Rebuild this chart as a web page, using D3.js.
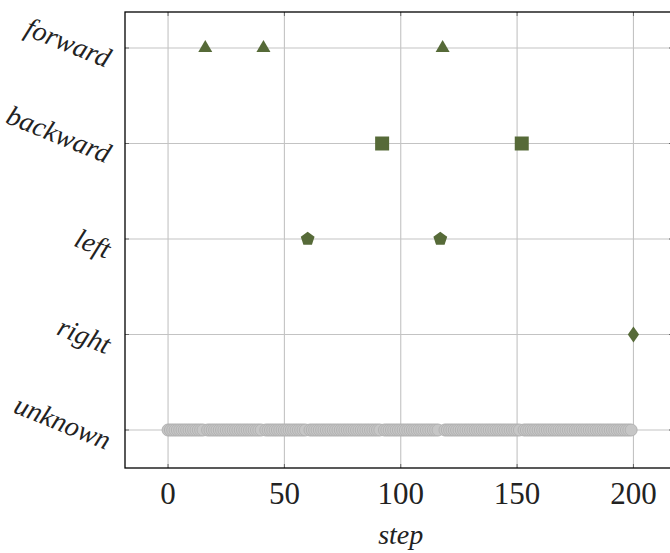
<!DOCTYPE html>
<html lang="en">
<head>
<meta charset="utf-8">
<title>Actions per step</title>
<script src="https://cdn.jsdelivr.net/npm/d3@7"></script>
<style>
  body { margin: 0; background: #fff; }
  .tick-label { font-family: "Liberation Serif", serif; font-size: 31px; fill: #222; }
  .cat-label { font-family: "Liberation Serif", serif; font-style: italic; font-size: 28px; fill: #222; }
</style>
</head>
<body>
<script>
// data
var categories = ["forward", "backward", "left", "right", "unknown"];
var forwardSteps = [16, 41, 118];
var backwardSteps = [92, 152];
var leftSteps = [60, 117];
var rightSteps = [200];
var unknownSteps = [
  0, 1, 2, 3, 4, 5, 6, 7, 8, 9, 10, 11, 12, 13, 14, 15, 17, 18, 19, 20,
  21, 22, 23, 24, 25, 26, 27, 28, 29, 30, 31, 32, 33, 34, 35, 36, 37, 38, 39, 40,
  42, 43, 44, 45, 46, 47, 48, 49, 50, 51, 52, 53, 54, 55, 56, 57, 58, 59, 61, 62,
  63, 64, 65, 66, 67, 68, 69, 70, 71, 72, 73, 74, 75, 76, 77, 78, 79, 80, 81, 82,
  83, 84, 85, 86, 87, 88, 89, 90, 91, 93, 94, 95, 96, 97, 98, 99, 100, 101, 102, 103,
  104, 105, 106, 107, 108, 109, 110, 111, 112, 113, 114, 115, 116, 119, 120, 121, 122, 123, 124, 125,
  126, 127, 128, 129, 130, 131, 132, 133, 134, 135, 136, 137, 138, 139, 140, 141, 142, 143, 144, 145,
  146, 147, 148, 149, 150, 151, 153, 154, 155, 156, 157, 158, 159, 160, 161, 162, 163, 164, 165, 166,
  167, 168, 169, 170, 171, 172, 173, 174, 175, 176, 177, 178, 179, 180, 181, 182, 183, 184, 185, 186,
  187, 188, 189, 190, 191, 192, 193, 194, 195, 196, 197, 198, 199
];
var xTicks = [0, 50, 100, 150, 200];

var w = 670, h = 553;
var plotL = 125, plotR = 673, plotT = 12, plotB = 468;
var green = "#566a38";

var xScale = d3.scaleLinear().domain([-18.5, 217]).range([plotL, plotR]);
var yScale = d3.scalePoint().domain(categories).range([48, 430]);

var svg = d3.select("body").append("svg")
  .attr("width", w).attr("height", h);

// grid
svg.append("g").selectAll("line").data(xTicks).enter().append("line")
  .attr("x1", d => xScale(d)).attr("x2", d => xScale(d))
  .attr("y1", plotT).attr("y2", plotB)
  .attr("stroke", "#c3c3c3").attr("stroke-width", 1.1);
svg.append("g").selectAll("line").data(categories).enter().append("line")
  .attr("x1", plotL).attr("x2", plotR)
  .attr("y1", d => yScale(d)).attr("y2", d => yScale(d))
  .attr("stroke", "#c3c3c3").attr("stroke-width", 1.1);

// small tick marks inside the frame
var tk = svg.append("g").attr("stroke", "#666").attr("stroke-width", 1);
xTicks.forEach(function(t) {
  tk.append("line").attr("x1", xScale(t)).attr("x2", xScale(t)).attr("y1", plotT).attr("y2", plotT + 4);
  tk.append("line").attr("x1", xScale(t)).attr("x2", xScale(t)).attr("y1", plotB - 4).attr("y2", plotB);
});
categories.forEach(function(c) {
  tk.append("line").attr("x1", plotL).attr("x2", plotL + 4).attr("y1", yScale(c)).attr("y2", yScale(c));
  tk.append("line").attr("x1", plotR - 4).attr("x2", plotR).attr("y1", yScale(c)).attr("y2", yScale(c));
});

// unknown circles
svg.append("g").selectAll("circle").data(unknownSteps).enter().append("circle")
  .attr("cx", d => xScale(d))
  .attr("cy", yScale("unknown"))
  .attr("r", 6)
  .attr("fill", "#c6c6c6")
  .attr("stroke", "#b2b2b2")
  .attr("stroke-width", 1);

// pentagon symbol
var symbolPentagon = {
  draw: function(ctx, size) {
    var r = Math.sqrt(size / 2.378);
    for (var i = 0; i < 5; i++) {
      var a = -Math.PI / 2 + i * 2 * Math.PI / 5;
      if (i === 0) ctx.moveTo(r * Math.cos(a), r * Math.sin(a));
      else ctx.lineTo(r * Math.cos(a), r * Math.sin(a));
    }
    ctx.closePath();
  }
};
// diamond a bit wider than d3's
var symbolRhombus = {
  draw: function(ctx, size) {
    var hy = Math.sqrt(size / 1.4), hx = hy * 0.7;
    ctx.moveTo(0, -hy); ctx.lineTo(hx, 0); ctx.lineTo(0, hy); ctx.lineTo(-hx, 0);
    ctx.closePath();
  }
};

function drawMarks(steps, cat, type, size) {
  svg.append("g").selectAll("path").data(steps).enter().append("path")
    .attr("d", d3.symbol().type(type).size(size))
    .attr("transform", d => "translate(" + xScale(d) + "," + yScale(cat) + ")")
    .attr("fill", green);
}
drawMarks(forwardSteps, "forward", d3.symbolTriangle, 85);
drawMarks(backwardSteps, "backward", d3.symbolSquare, 196);
drawMarks(leftSteps, "left", symbolPentagon, 125);
drawMarks(rightSteps, "right", symbolRhombus, 90);

// frame
svg.append("rect")
  .attr("x", plotL).attr("y", plotT)
  .attr("width", plotR - plotL).attr("height", plotB - plotT)
  .attr("fill", "none").attr("stroke", "#000").attr("stroke-width", 1.3);

// x tick labels
svg.append("g").selectAll("text").data(xTicks).enter().append("text")
  .attr("class", "tick-label")
  .attr("x", d => xScale(d)).attr("y", 504)
  .attr("text-anchor", "middle")
  .text(d => d);

svg.append("text").attr("class", "cat-label")
  .attr("x", xScale(100)).attr("y", 544)
  .attr("text-anchor", "middle")
  .text("step");

// category labels, rotated
svg.append("g").selectAll("text").data(categories).enter().append("text")
  .attr("class", "cat-label")
  .attr("text-anchor", "end")
  .attr("transform", d => "translate(106," + (yScale(d) + 20) + ") rotate(22)")
  .text(d => d);
</script>
</body>
</html>
